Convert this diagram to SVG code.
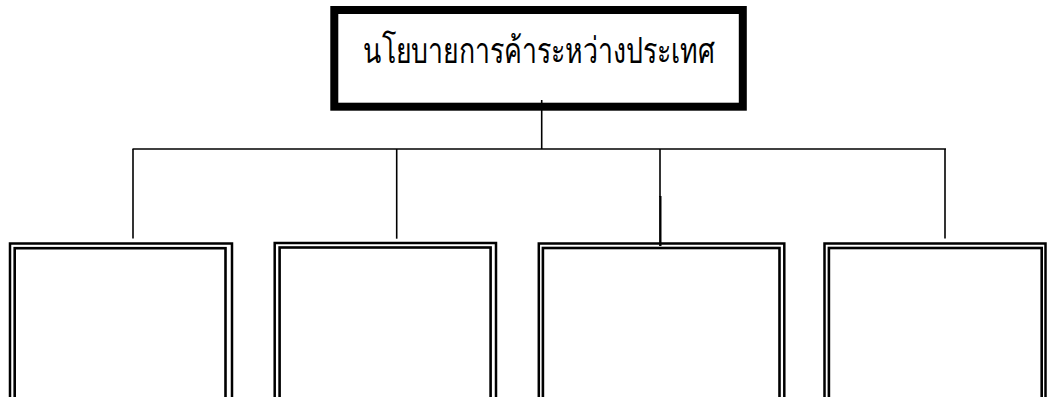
<svg xmlns="http://www.w3.org/2000/svg" width="1048" height="397" viewBox="0 0 1048 397">
<style>
.line{stroke:#000;stroke-width:1.6;fill:none}
.outer{stroke:#000;stroke-width:2.5;fill:none}
.inner{stroke:#000;stroke-width:2.6;fill:none}
.main{stroke:#000;stroke-width:8;fill:#fff}
.label{font-family:"Liberation Serif","DejaVu Serif","Noto Sans",serif;font-size:36px;fill:#000}
</style>
<rect width="1048" height="397" fill="#fff"/>
<g id="top-node">
<rect class="main" x="334.3" y="10" width="408.5" height="96.7"/>
<text class="label" x="363" y="63" textLength="352" lengthAdjust="spacingAndGlyphs">นโยบายการค้าระหว่างประเทศ</text>
</g>
<g id="connectors">
<line class="line" x1="541.7" y1="100" x2="541.7" y2="149"/>
<line class="line" x1="132.5" y1="149" x2="946" y2="149"/>
<line class="line" x1="133" y1="149" x2="133" y2="238.5"/>
<line class="line" x1="396.7" y1="149" x2="396.7" y2="238.7"/>
<line class="line" x1="660" y1="149" x2="660" y2="197"/>
<line class="line" x1="660.3" y1="196" x2="660.3" y2="246" style="stroke-width:2.4"/>
<line class="line" x1="945" y1="149" x2="945" y2="238.5"/>
</g>
<g id="box1">
<rect class="outer" x="10" y="243.5" width="222" height="170"/>
<rect class="inner" x="14.7" y="248.2" width="210.8" height="160"/>
</g>
<g id="box2">
<rect class="outer" x="274.7" y="243" width="221.3" height="170"/>
<rect class="inner" x="279.6" y="247.5" width="211" height="160"/>
</g>
<g id="box3">
<rect class="outer" x="538.8" y="243.5" width="245.5" height="170"/>
<rect class="inner" x="542.9" y="248" width="236.6" height="160"/>
</g>
<g id="box4">
<rect class="outer" x="824.5" y="243.5" width="221" height="170"/>
<rect class="inner" x="828.9" y="248" width="212.8" height="160"/>
</g>
</svg>
